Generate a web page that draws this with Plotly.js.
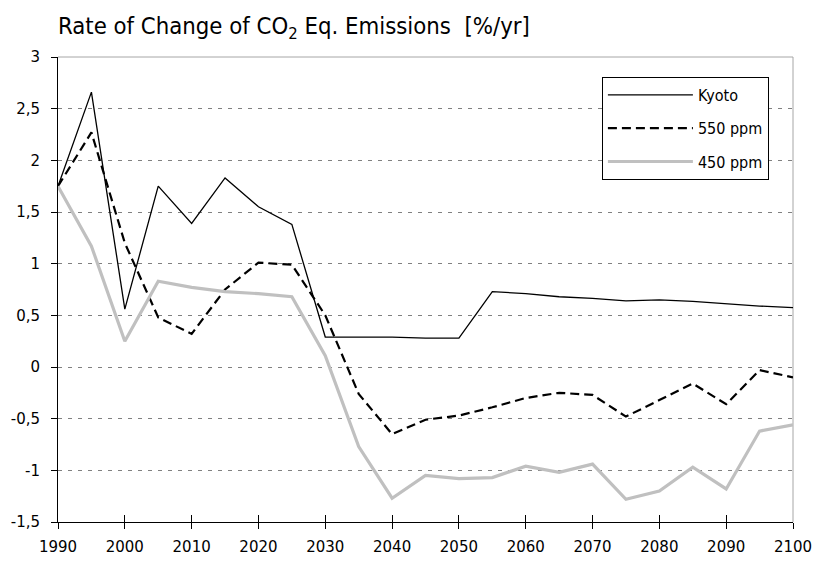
<!DOCTYPE html>
<html>
<head>
<meta charset="utf-8">
<script src="https://cdn.plot.ly/plotly-3.0.1.min.js"></script>
<style>html,body{margin:0;padding:0;background:#fff;}#chart{width:815px;height:563px;}</style>
</head>
<body>
<div id="chart"></div>
<script>
var years = [1990,1995,2000,2005,2010,2015,2020,2025,2030,2035,2040,2045,2050,2055,2060,2065,2070,2075,2080,2085,2090,2095,2100];
var kyoto = [1.75,2.66,0.56,1.75,1.39,1.83,1.55,1.38,0.29,0.29,0.29,0.28,0.28,0.73,0.71,0.68,0.665,0.64,0.65,0.635,0.61,0.59,0.575];
var ppm550 = [1.75,2.27,1.2,0.48,0.32,0.75,1.01,0.99,0.5,-0.26,-0.65,-0.51,-0.47,-0.39,-0.3,-0.25,-0.27,-0.48,-0.32,-0.16,-0.36,-0.03,-0.1];
var ppm450 = [1.75,1.17,0.25,0.83,0.77,0.73,0.71,0.68,0.11,-0.77,-1.27,-1.05,-1.08,-1.07,-0.96,-1.02,-0.94,-1.28,-1.2,-0.97,-1.18,-0.62,-0.56];
var seriesNames = ['Kyoto','550 ppm','450 ppm'];
var xTickVals = [1990,2000,2010,2020,2030,2040,2050,2060,2070,2080,2090,2100];
var yTickVals = [-1.5,-1,-0.5,0,0.5,1,1.5,2,2.5,3];
var yTickText = ['-1,5','-1','-0,5','0','0,5','1','1,5','2','2,5','3'];
var titleText = 'Rate of Change of CO<sub>2</sub> Eq. Emissions  [%/yr]';

var tickFont = {family:'DejaVu Sans', size:15, color:'#000'};
var traces = [
  {x:years, y:kyoto, name:seriesNames[0], legendgroup:'a', type:'scatter', mode:'lines',
   line:{color:'#000', width:1.3}},
  {x:years, y:ppm550, name:seriesNames[1], legendgroup:'b', type:'scatter', mode:'lines',
   line:{color:'#000', width:2.2, dash:'9px,5px'}},
  {x:years, y:ppm450, name:seriesNames[2], legendgroup:'c', type:'scatter', mode:'lines',
   line:{color:'#c0c0c0', width:3.2}},
  // carrier for the overlaid axis that draws the upper half of the crossing x ticks (no visible mark)
  {x:[xTickVals[0]], y:[null], xaxis:'x2', type:'scatter', mode:'lines', showlegend:false, hoverinfo:'skip'}
];
var layout = {
  width:815, height:563,
  margin:{l:58, r:22, t:57, b:41},
  paper_bgcolor:'#fff', plot_bgcolor:'#fff',
  separators:',.',
  title:{text:titleText, x:58/815, xref:'container', xanchor:'left', y:1-26/563, yref:'container', yanchor:'middle',
         font:{family:'DejaVu Sans Condensed', size:23.7, color:'#000'}},
  showlegend:true,
  legend:{x:0.74, y:0.957, xanchor:'left', yanchor:'top', bgcolor:'#fff', bordercolor:'#000', borderwidth:1,
          font:{family:'DejaVu Sans Condensed', size:16, color:'#000'}, traceorder:'grouped', tracegroupgap:9.5, itemwidth:85},
  xaxis:{range:[1990,2100], tickvals:xTickVals, ticks:'outside', ticklen:6, tickcolor:'#000', tickwidth:1,
         showline:true, linecolor:'#000', linewidth:1, showgrid:false, zeroline:false, tickfont:tickFont,
         ticklabelstandoff:5},
  xaxis2:{range:[1990,2100], overlaying:'x', matches:'x', tickvals:xTickVals, ticks:'inside', ticklen:7, tickcolor:'#000',
          showticklabels:false, showline:false, showgrid:false, zeroline:false, side:'bottom'},
  yaxis:{range:[-1.5,3], tickvals:yTickVals, ticktext:yTickText, ticks:'outside', ticklen:6, tickcolor:'#000',
         showline:true, linecolor:'#000', linewidth:1, showgrid:true, gridcolor:'#808080', gridwidth:1, griddash:'4px,6px',
         zeroline:false, tickfont:tickFont, ticklabelstandoff:8},
  shapes:[
    {type:'line', xref:'paper', yref:'paper', x0:0, x1:1, y0:1, y1:1, line:{color:'#a6a6a6', width:1}, layer:'below'},
    {type:'line', xref:'paper', yref:'paper', x0:1, x1:1, y0:0, y1:1, line:{color:'#a6a6a6', width:1}, layer:'below'}
  ]
};
Plotly.newPlot('chart', traces, layout, {displayModeBar:false, staticPlot:true});
</script>
</body>
</html>
